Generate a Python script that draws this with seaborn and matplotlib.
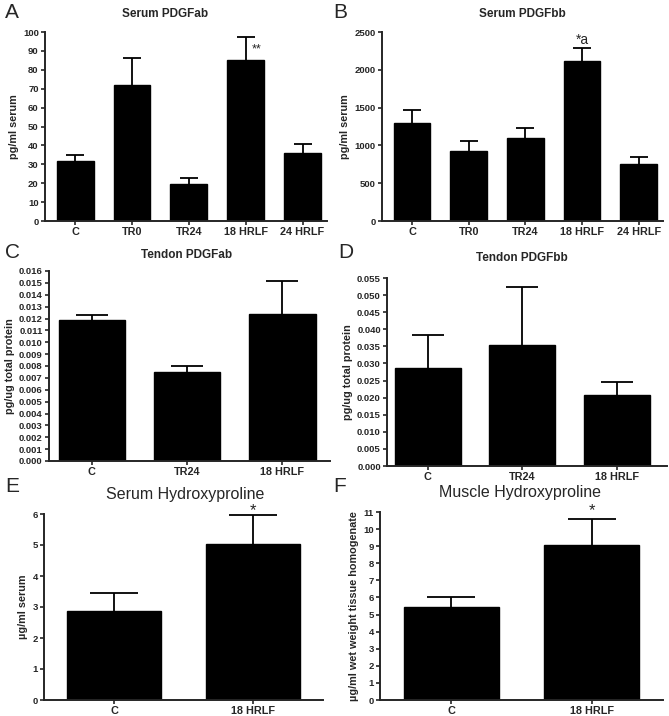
import numpy as np
import matplotlib
matplotlib.use("Agg")
import matplotlib.pyplot as plt
import seaborn as sns

sns.set_style("ticks")
plt.rcParams['font.family'] = ['Liberation Sans', 'DejaVu Sans']

# Panel data (mean, upper SEM end)
cats_five = ['C', 'TR0', 'TR24', '18 HRLF', '24 HRLF']
cats_three = ['C', 'TR24', '18 HRLF']
cats_two = ['C', '18 HRLF']

serum_ab = [31.7, 71.7, 19.4, 85.4, 35.8]
serum_ab_top = [35.0, 86.2, 22.6, 97.2, 40.8]

serum_bb = [1292, 925, 1102, 2111, 752]
serum_bb_top = [1469, 1062, 1235, 2283, 841]

tendon_ab = [0.0119, 0.0075, 0.0124]
tendon_ab_top = [0.01227, 0.0080, 0.0152]

tendon_bb = [0.0288, 0.0355, 0.0209]
tendon_bb_top = [0.0382, 0.0524, 0.0245]

serum_hyp = [2.86, 5.03]
serum_hyp_top = [3.45, 5.98]

muscle_hyp = [5.47, 9.05]
muscle_hyp_top = [6.02, 10.6]

W, H = 669, 716
fig = plt.figure(figsize=(W / 100, H / 100), dpi=100)


def box(l, t, r, b):
    return [l / W, 1 - b / H, (r - l) / W, (b - t) / H]


def panel(rect, cats, vals, tops, width, cap, ylim, yticks, ylabel, xlim, fmt=None):
    ax = fig.add_axes(box(*rect))
    sns.barplot(x=cats, y=vals, color='black', width=width, errorbar=None,
                saturation=1, edgecolor='black', linewidth=1, ax=ax)
    err = np.array(tops) - np.array(vals)
    _, caps, _ = ax.errorbar(np.arange(len(cats)), vals,
                             yerr=[np.zeros(len(vals)), err],
                             fmt='none', ecolor='black', elinewidth=1.3,
                             capsize=cap, capthick=1.3)
    # only the upper cap is shown
    caps[0].set_visible(False)
    ax.set_ylim(*ylim)
    ax.set_xlim(*xlim)
    ax.set_yticks(yticks)
    if fmt:
        ax.set_yticklabels([fmt.format(v) for v in yticks])
    sns.despine(ax=ax)
    for s in ['left', 'bottom']:
        ax.spines[s].set_linewidth(1.4)
    ax.tick_params(axis='both', length=3, width=1.2, pad=1.5)
    for lab in ax.get_yticklabels():
        lab.set_fontsize(6.8)
        lab.set_fontweight('bold')
    for lab in ax.get_xticklabels():
        lab.set_fontsize(7.8)
        lab.set_fontweight('bold')
    ax.set_ylabel(ylabel, fontsize=7.8, fontweight='bold', labelpad=3)
    ax.set_xlabel('')
    return ax


axA = panel((45, 32, 327, 221), cats_five, serum_ab, serum_ab_top, 0.65, 6.5,
            (0, 100), np.arange(0, 101, 10), 'pg/ml serum', (-0.53, 4.43))
axA.text(3.1, 91, '**', fontsize=9, ha='left', va='center')

axB = panel((382, 32, 663, 221), cats_five, serum_bb, serum_bb_top, 0.65, 6.5,
            (0, 2500), np.arange(0, 2501, 500), 'pg/ml serum', (-0.53, 4.43))
axB.text(3, 2390, '*a', fontsize=10, ha='center', va='center')

axC = panel((49, 271, 330, 461), cats_three, tendon_ab, tendon_ab_top, 0.7, 11.5,
            (0, 0.016), np.arange(0, 0.01601, 0.001), 'pg/ug total protein',
            (-0.45, 2.5), fmt='{:.3f}')

axD = panel((387, 278, 667, 466), cats_three, tendon_bb, tendon_bb_top, 0.7, 11.5,
            (0, 0.055), np.arange(0, 0.05501, 0.005), 'pg/ug total protein',
            (-0.43, 2.53), fmt='{:.3f}')

axE = panel((44, 514, 323, 700), cats_two, serum_hyp, serum_hyp_top, 0.68, 17,
            (0, 6), np.arange(0, 7, 1), '\u00b5g/ml serum', (-0.51, 1.51))
axE.text(1, 6.1, '*', fontsize=12, ha='center', va='center')

axF = panel((380, 512, 663, 700), cats_two, muscle_hyp, muscle_hyp_top, 0.68, 17,
            (0, 11), np.arange(0, 12, 1), '\u00b5g/ml wet weight tissue homogenate',
            (-0.51, 1.51))
axF.text(1, 11.1, '*', fontsize=12, ha='center', va='center')

# Titles
for x, y, t in [(165, 14, 'Serum PDGFab'), (522, 14, 'Serum PDGFbb'),
                (187, 255, 'Tendon PDGFab'), (522, 258, 'Tendon PDGFbb')]:
    fig.text(x / W, 1 - y / H, t, fontsize=8.5, fontweight='bold', ha='center', va='center')
for x, y, t in [(185, 495, 'Serum Hydroxyproline'), (520, 492, 'Muscle Hydroxyproline')]:
    fig.text(x / W, 1 - y / H, t, fontsize=11.5, ha='center', va='center')

# Panel letters
for x, y, t in [(5, 13, 'A'), (333, 13, 'B'), (5, 252, 'C'), (338, 252, 'D'),
                (5, 487, 'E'), (333, 487, 'F')]:
    fig.text(x / W, 1 - y / H, t, fontsize=15, ha='left', va='center')

fig.savefig('out.png', dpi=100)
